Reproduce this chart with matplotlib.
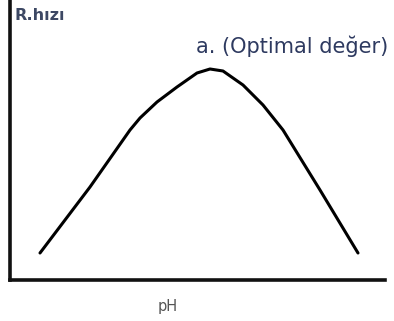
import matplotlib
matplotlib.use("Agg")
import matplotlib.pyplot as plt

# reaction rate vs pH (arbitrary units)
ph = [30, 80, 120, 130, 147, 167, 187, 200, 213, 233, 253, 273, 310, 348]
rate = [27, 93, 150, 162, 178, 193, 207, 211, 209, 195, 175, 150, 90, 27]

y_label = "R.hızı"
x_label = "pH"
peak_label = "a. (Optimal değer)"

fig = plt.figure(figsize=(3.94, 3.21), dpi=100)
ax = fig.add_axes([10/394, 41/321, 375/394, 280/321])
ax.set_xlim(0, 375)
ax.set_ylim(0, 280)

ax.plot(ph, rate, color='black', lw=2.2, solid_capstyle='round', solid_joinstyle='round')

for s in ['top', 'right']:
    ax.spines[s].set_visible(False)
for s in ['left', 'bottom']:
    ax.spines[s].set_linewidth(2.6)
    ax.spines[s].set_color('#111111')
ax.set_xticks([])
ax.set_yticks([])

fig.text(15/394, 1 - 16/321, y_label, fontsize=11.5, family='DejaVu Sans', fontweight='bold',
         color='#3d4864', va='center', ha='left')
fig.text(196/394, 1 - 46/321, peak_label, fontsize=15, family='DejaVu Sans',
         color='#2e3a60', va='center', ha='left')
fig.text(168/394, 1 - 306/321, x_label, fontsize=10.5, family='DejaVu Sans',
         color='#555555', va='center', ha='center')

fig.savefig('out.png', dpi=100)
